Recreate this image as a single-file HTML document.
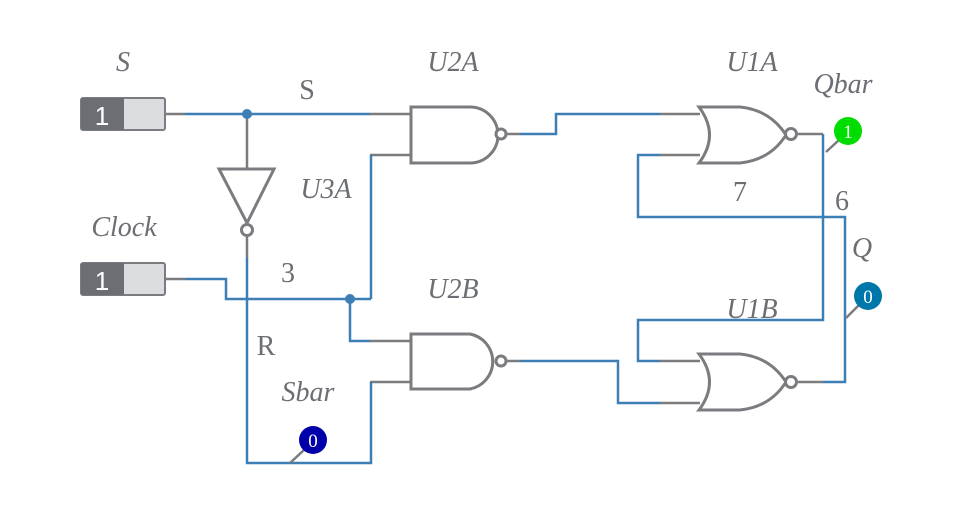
<!DOCTYPE html>
<html><head><meta charset="utf-8"><style>
html,body{margin:0;padding:0;background:#fff;}
svg{display:block}
text{font-family:"Liberation Serif",serif;fill:#6b6e73;font-size:28px}
.i{font-style:italic}
</style></head><body>
<svg width="966" height="510" viewBox="0 0 966 510" xmlns="http://www.w3.org/2000/svg">
<g fill="none" stroke-width="2.5">
<g stroke="#7a7c80">
<path d="M165 114H185M370 114H411M370 155H411M165 279H185M370 341H411M370 382H411"/>
<path d="M506 134H520M506 361H520M660 114H700M660 155H700M660 361H700M660 403H700M798 134H823M798 382H823"/>
<path d="M247 114V168M247 236V258"/>
</g>
<g stroke="#3d7fb5">
<path d="M185 114H370"/>
<path d="M371 155V299"/>
<path d="M185 279H226V299H371"/>
<path d="M350 299V341H370"/>
<path d="M247 258V463H371V382"/>
<path d="M520 134H556V114H660"/>
<path d="M520 361H618V403H660"/>
<path d="M823 134V320H638V361H660"/>
<path d="M660 155H638V217H845V382H823"/>
</g>
<g stroke="#7a7c80" stroke-width="3">
<path d="M411 107H470A28 28 0 0 1 470 163H411Z"/>
<circle cx="501" cy="134" r="5" fill="#fff"/>
<path d="M411 334H470A28 28 0 0 1 470 389H411Z"/>
<circle cx="501" cy="361" r="5" fill="#fff"/>
<path d="M219 169H274L247 223Z"/>
<circle cx="247" cy="230" r="5.5" fill="#fff"/>
<path d="M699 107Q720 135 699 163H740Q770 160 786 135Q770 110 740 107Z"/>
<circle cx="791" cy="134" r="5.5" fill="#fff"/>
<path d="M699 354Q720 382 699 410H740Q770 407 786 382Q770 357 740 354Z"/>
<circle cx="791" cy="382" r="5.5" fill="#fff"/>
</g>
</g>
<circle cx="247" cy="114" r="5" fill="#3d7fb5"/>
<circle cx="350" cy="299" r="5" fill="#3d7fb5"/>
<g>
<rect x="81" y="98" width="84" height="32" rx="2" fill="#dcdde0" stroke="#7a7c80" stroke-width="2"/>
<rect x="81" y="98" width="43" height="32" rx="2" fill="#6b6e73"/>
<text x="102" y="125" text-anchor="middle" style="font-family:'Liberation Sans',sans-serif;fill:#fff;font-size:26px">1</text>
<rect x="81" y="263" width="84" height="32" rx="2" fill="#dcdde0" stroke="#7a7c80" stroke-width="2"/>
<rect x="81" y="263" width="43" height="32" rx="2" fill="#6b6e73"/>
<text x="102" y="290" text-anchor="middle" style="font-family:'Liberation Sans',sans-serif;fill:#fff;font-size:26px">1</text>
</g>
<g stroke="#7a7c80" stroke-width="2.5">
<path d="M826 152L839 140M846 318L859 305M290 463L304 450"/>
</g>
<circle cx="848" cy="131" r="14" fill="#00dd00"/>
<text x="848" y="138" text-anchor="middle" style="fill:#fff;font-size:19px">1</text>
<circle cx="868" cy="296" r="14" fill="#0077aa"/>
<text x="868" y="303" text-anchor="middle" style="fill:#fff;font-size:19px">0</text>
<circle cx="313" cy="440" r="14" fill="#0000aa"/>
<text x="313" y="447" text-anchor="middle" style="fill:#fff;font-size:19px">0</text>
<text class="i" x="123" y="71" text-anchor="middle">S</text>
<text x="307" y="99" text-anchor="middle">S</text>
<text class="i" x="453" y="71" text-anchor="middle">U2A</text>
<text class="i" x="752" y="71" text-anchor="middle">U1A</text>
<text class="i" x="843" y="93" text-anchor="middle">Qbar</text>
<text class="i" x="326" y="198" text-anchor="middle">U3A</text>
<text x="740" y="201" text-anchor="middle">7</text>
<text x="842" y="210" text-anchor="middle">6</text>
<text class="i" x="124" y="236" text-anchor="middle">Clock</text>
<text class="i" x="862" y="257" text-anchor="middle">Q</text>
<text x="288" y="282" text-anchor="middle">3</text>
<text class="i" x="453" y="298" text-anchor="middle">U2B</text>
<text class="i" x="752" y="318" text-anchor="middle">U1B</text>
<text x="266" y="355" text-anchor="middle">R</text>
<text class="i" x="308" y="401" text-anchor="middle">Sbar</text>
</svg>
</body></html>
